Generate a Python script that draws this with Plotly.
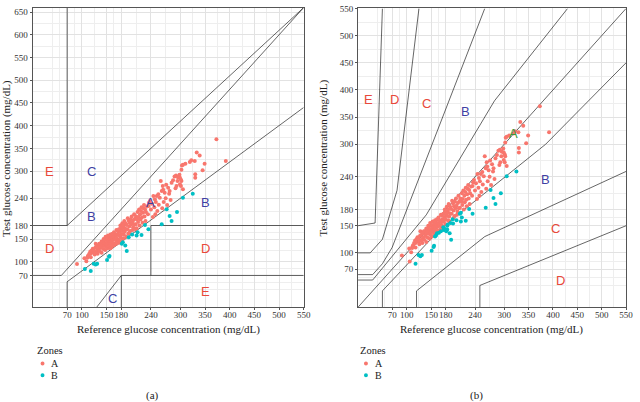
import numpy as np
import plotly.graph_objects as go

# ---------------- data ----------------
ref = [
    90, 105, 109, 111, 112, 113, 115, 117, 118, 118, 120, 120, 122, 124, 124, 126, 127, 128, 129, 130,
    131, 132, 133, 134, 135, 136, 137, 138, 139, 140, 140, 141, 142, 143, 144, 145, 145, 146, 147, 148,
    148, 149, 150, 150, 151, 152, 152, 153, 154, 155, 156, 157, 157, 158, 158, 159, 160, 160, 160, 161,
    162, 163, 164, 165, 165, 166, 167, 168, 169, 170, 170, 171, 172, 173, 174, 175, 175, 176, 177, 178,
    179, 179, 180, 181, 182, 182, 183, 184, 185, 185, 186, 187, 188, 189, 190, 191, 192, 193, 194, 195,
    196, 197, 198, 199, 200,
    201, 202, 203, 204, 205, 206, 207, 208, 209, 210, 211, 212, 213, 214, 215, 216, 217, 218, 219, 220,
    221, 222, 223, 224, 225, 226, 227, 228, 229, 230, 232, 234, 235, 236, 238, 240, 242, 244, 245, 247,
    248, 249, 250,
    252, 253, 255, 256, 258, 260, 262, 263, 264, 265, 266, 268, 270, 271, 273, 275, 277, 278, 280, 282,
    285, 288, 290, 291, 292, 294, 295, 298, 299, 299, 301, 301, 302, 302, 303, 305, 305,
    310, 319, 322, 329, 330, 330, 333, 339, 345, 349, 373, 392,
    106, 118, 124, 128, 131, 151, 155, 156, 181, 183, 188, 191, 195, 202, 211, 213, 221, 228, 235, 262,
    272, 278, 282, 293, 305, 325,
    162, 170, 175, 178, 158, 184, 196, 209,
]
test = [
    95, 108, 101, 109, 112, 114, 118, 123, 110, 118, 122, 125, 129, 120, 125, 116, 131, 140, 133, 122,
    125, 118, 136, 129, 140, 124, 140, 131, 133, 145, 120, 137, 143, 128, 150, 147, 135, 141, 126, 140,
    155, 133, 150, 138, 144, 151, 130, 158, 140, 147, 135, 154, 143, 160, 150, 139, 146, 157, 132, 152,
    162, 148, 141, 165, 155, 137, 150, 160, 158, 145, 170, 152, 169, 162, 148, 172, 158, 142, 166, 180,
    176, 153, 161, 170, 168, 185, 150, 175, 180, 160, 190, 167, 173, 185, 155, 181, 172, 196, 162, 191,
    178, 186, 168, 194, 182,
    200, 187, 170, 176, 192, 205, 182, 195, 183, 200, 174, 194, 210, 188, 199, 215, 180, 205, 193, 212,
    220, 198, 186, 208, 218, 225, 200, 216, 190, 210, 222, 205, 223, 230, 234, 215, 228, 199, 245, 220,
    238, 205, 232,
    245, 212, 249, 226, 241, 278, 256, 218, 267, 259, 232, 252, 240, 270, 225, 263, 250, 256, 236, 274,
    280, 288, 262, 290, 267, 278, 286, 292, 271, 285, 267, 281, 278, 303, 312, 260, 314,
    316, 320, 324, 322, 293, 285, 341, 334, 302, 316, 370, 322,
    84, 80, 96, 94, 96, 104, 111, 113, 140, 143, 136, 124, 154, 160, 158, 165, 159, 181, 172, 183,
    216, 201, 190, 210, 241, 250,
    136, 140, 147, 144, 130, 152, 164, 172,
]

x_ticks = [70, 100, 150, 180, 240, 300, 350, 400, 450, 500, 550]
y_ticks_a = [70, 100, 150, 180, 240, 300, 350, 400, 450, 500, 550, 600, 650]
y_ticks_b = [70, 100, 150, 180, 240, 300, 350, 400, 450, 500, 550]
minor_x = [40, 55, 85, 125, 165, 210, 270, 325, 375, 425, 475, 525]
minor_y_a = [40, 55, 85, 125, 165, 210, 270, 325, 375, 425, 475, 525, 575, 625]
minor_y_b = [40, 55, 85, 125, 165, 210, 270, 325, 375, 425, 475, 525]

# Clarke error grid boundaries (panel a)
clarke_lines = [
    [(0, 70), (58.33, 70), (550, 660)],
    [(0, 180), (70, 180), (550, 660)],
    [(70, 660), (70, 180)],
    [(70, 0), (70, 56), (550, 440)],
    [(130, 0), (180, 70), (550, 70)],
    [(180, 0), (180, 70)],
    [(240, 70), (240, 180), (550, 180)],
]
clarke_labels = ["A", "B", "B", "C", "C", "D", "D", "E", "E"]
clarke_lab_x = [240, 120, 350, 120, 163, 35, 350, 35, 350]
clarke_lab_y = [230, 200, 230, 300, 20, 130, 130, 300, 35]

# Parkes error grid (type 1) boundaries (panel b)
parkes_lines = [
    [(0, 50), (30, 50), (140, 170), (280, 380), (430, 550)],
    [(50, 0), (50, 30), (170, 145), (385, 300), (550, 450)],
    [(0, 60), (30, 60), (50, 80), (70, 110), (260, 550)],
    [(120, 0), (120, 30), (260, 130), (550, 250)],
    [(0, 100), (25, 100), (50, 125), (80, 215), (125, 550)],
    [(250, 0), (250, 40), (550, 150)],
    [(0, 150), (35, 155), (50, 550)],
    [(0, 0), (550, 550)],
]
parkes_labels = ["A", "B", "B", "C", "C", "D", "D", "E"]
parkes_lab_x = [320, 220, 385, 140, 405, 415, 75, 21]
parkes_lab_y = [320, 360, 235, 375, 145, 50, 383, 383]

# ---------------- styles ----------------
COL_A = "#F8766D"
COL_B = "#00BFC4"
BLUE = "#3f3fa3"
RED = "#e8483a"
GREEN = "#3a9a3a"
SERIF = "Liberation Serif"
SANS = "Liberation Sans"
W, H = 640, 402

ref_arr = np.array(ref, float)
test_arr = np.array(test, float)

# zone classification per grid
clarke_A = (test_arr >= 0.8 * ref_arr) & (test_arr <= 1.2 * ref_arr)
pk_low = np.interp(ref_arr, [50, 170, 385, 550], [30, 145, 300, 450])
pk_up = np.interp(ref_arr, [30, 140, 280, 430], [50, 170, 380, 550])
parkes_A = (test_arr >= pk_low) & (test_arr <= pk_up)


def lines_xy(lines):
    xs, ys = [], []
    for seg in lines:
        for (x, y) in seg:
            xs.append(x)
            ys.append(y)
        xs.append(None)
        ys.append(None)
    return xs, ys


fig = go.Figure()

for xa, ya, lines, isA in [("x", "y", clarke_lines, clarke_A), ("x2", "y2", parkes_lines, parkes_A)]:
    lx, ly = lines_xy(lines)
    fig.add_trace(go.Scatter(x=lx, y=ly, mode="lines", xaxis=xa, yaxis=ya,
                             line=dict(color="rgba(0,0,0,0.6)", width=1), showlegend=False, hoverinfo="skip"))
    fig.add_trace(go.Scatter(x=ref_arr[isA], y=test_arr[isA], mode="markers", name="A", xaxis=xa, yaxis=ya,
                             marker=dict(color=COL_A, size=4), showlegend=False))
    fig.add_trace(go.Scatter(x=ref_arr[~isA], y=test_arr[~isA], mode="markers", name="B", xaxis=xa, yaxis=ya,
                             marker=dict(color=COL_B, size=4), showlegend=False))

annotations = []
for lab, x, y in zip(clarke_labels, clarke_lab_x, clarke_lab_y):
    annotations.append(dict(x=x, y=y, xref="x", yref="y", text=lab, showarrow=False,
                            font=dict(family=SANS, size=13, color=BLUE if lab in "ABC" else RED)))
for lab, x, y in zip(parkes_labels, parkes_lab_x, parkes_lab_y):
    c = GREEN if lab == "A" else (BLUE if lab == "B" else RED)
    annotations.append(dict(x=x, y=y, xref="x2", yref="y2", text=lab, showarrow=False,
                            font=dict(family=SANS, size=13, color=c)))


def px(x):
    return x / W


def py(y):
    return 1 - y / H


# axis titles
for cx, cy, ang, txt in [
    (170, 329, 0, "Reference glucose concentration (mg/dL)"),
    (497, 329, 0, "Reference glucose concentration (mg/dL)"),
    (6, 155, -90, "Test glucose concentration (mg/dL)"),
    (327, 155, -90, "Test glucose concentration (mg/dL)"),
]:
    annotations.append(dict(x=px(cx), y=py(cy), xref="paper", yref="paper", text=txt, showarrow=False,
                            textangle=ang, xanchor="center", yanchor="middle",
                            font=dict(family=SERIF, size=11, color="#222")))

# manual legends + captions
shapes = []
for lx0 in [35, 362]:
    annotations.append(dict(x=px(lx0), y=py(350), xref="paper", yref="paper", text="Zones", showarrow=False,
                            xanchor="left", yanchor="middle", font=dict(family=SERIF, size=10.5, color="#222")))
    for lab, yy, col in [("A", 363, COL_A), ("B", 375, COL_B)]:
        cxp = lx0 + 8
        shapes.append(dict(type="circle", xref="paper", yref="paper",
                           x0=px(cxp - 2), x1=px(cxp + 2), y0=py(yy + 2), y1=py(yy - 2),
                           fillcolor=col, line=dict(width=0)))
        annotations.append(dict(x=px(lx0 + 15), y=py(yy), xref="paper", yref="paper", text=lab,
                                showarrow=False, xanchor="left", yanchor="middle",
                                font=dict(family=SERIF, size=10, color="#222")))
for cx, txt in [(154, "(a)"), (482, "(b)")]:
    annotations.append(dict(x=px(cx), y=py(395), xref="paper", yref="paper", text=txt, showarrow=False,
                            xanchor="center", yanchor="middle", font=dict(family=SERIF, size=11, color="#222")))


def axis(domain, rng, ticks, minor, anchor, letter):
    d = dict(domain=domain, range=rng, tickvals=ticks, ticktext=[str(t) for t in ticks],
             anchor=anchor, showgrid=True, gridcolor="#e2e2e2", gridwidth=1, tickangle=0,
             minor=dict(tickvals=minor, showgrid=True, gridcolor="#eeeeee", gridwidth=0.6),
             showline=True, mirror=True, linecolor="#555", linewidth=1,
             ticks="outside", ticklen=2, tickcolor="#555", zeroline=False,
             tickfont=dict(family=SERIF, size=9, color="#333"))
    if letter == "x":
        d["ticklabelstandoff"] = -3
    return d


fig.update_layout(
    width=W, height=H, margin=dict(l=0, r=0, t=0, b=0),
    paper_bgcolor="white", plot_bgcolor="white",
    xaxis=axis([px(33), px(307)], [0, 550], x_ticks, minor_x, "y", "x"),
    yaxis=axis([py(306), py(2.7)], [0, 660], y_ticks_a, minor_y_a, "x", "y"),
    xaxis2=axis([px(362), px(633)], [0, 550], x_ticks, minor_x, "y2", "x"),
    yaxis2=axis([py(306), py(3.5)], [0, 550], y_ticks_b, minor_y_b, "x2", "y"),
    annotations=annotations, shapes=shapes, showlegend=False,
)

fig.write_html(
    "out.html", config={"displayModeBar": False},
    post_script=("document.documentElement.style.margin='0';document.documentElement.style.padding='0';"
                 "document.documentElement.style.overflow='hidden';"
                 "document.body.style.margin='0';document.body.style.padding='0';"
                 "document.body.style.overflow='hidden';"),
)
